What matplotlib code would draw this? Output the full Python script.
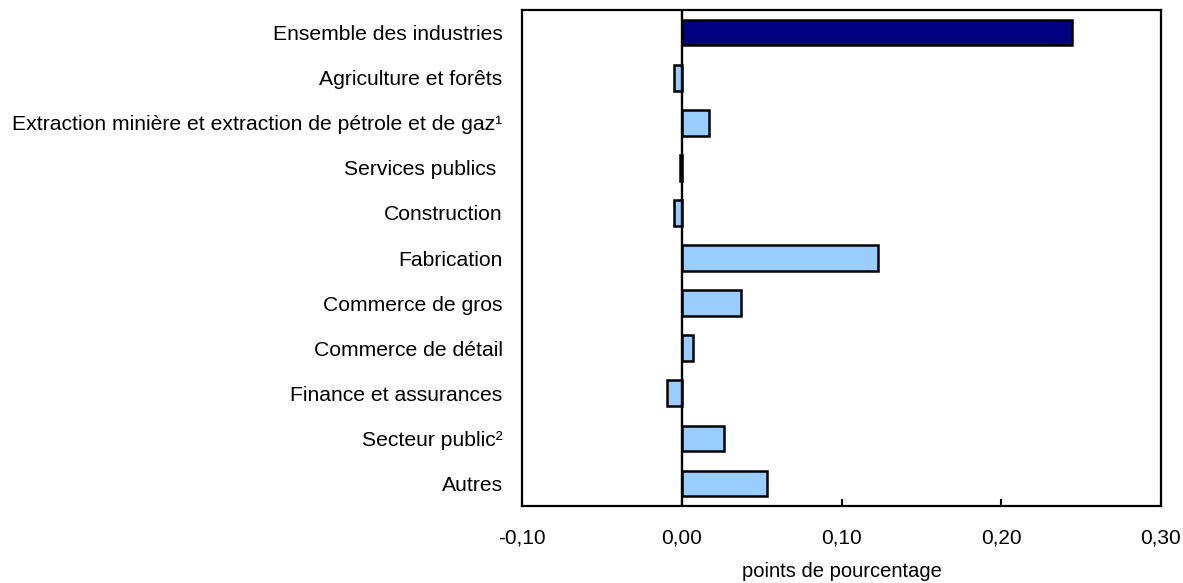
import matplotlib
matplotlib.use("Agg")
import matplotlib.pyplot as plt

# industries, top to bottom
industries = [
    "Ensemble des industries",
    "Agriculture et forêts",
    "Extraction minière et extraction de pétrole et de gaz¹",
    "Services publics ",
    "Construction",
    "Fabrication",
    "Commerce de gros",
    "Commerce de détail",
    "Finance et assurances",
    "Secteur public²",
    "Autres",
]
# contribution in percentage points
values = [0.244, -0.005, 0.017, -0.001, -0.005, 0.123, 0.037, 0.0073, -0.0092, 0.0265, 0.0536]

xticks = [-0.10, 0.00, 0.10, 0.20, 0.30]
xticklabels = ["-0,10", "0,00", "0,10", "0,20", "0,30"]

plt.rcParams['font.family'] = ['Liberation Sans', 'DejaVu Sans']

fig = plt.figure(figsize=(11.83, 5.83), dpi=100)
ax = fig.add_axes([0.4413, 0.1321, 0.5401, 0.8507])

colors = ["#000080"] + ["#99CCFF"] * (len(values) - 1)
ypos = list(range(len(industries)))
ax.barh(ypos, values, height=0.57, color=colors, edgecolor="black", linewidth=1.8, zorder=2)
ax.axvline(0, color="black", linewidth=1.7, zorder=3)

ax.set_ylim(len(industries) - 0.5, -0.5)
ax.set_xlim(-0.10, 0.30)
ax.set_yticks(ypos)
ax.set_yticklabels(industries, fontsize=15.2)
ax.tick_params(axis="y", length=0, pad=14)
ax.set_xticks(xticks)
ax.set_xticklabels(xticklabels, fontsize=15)
ax.tick_params(axis="x", direction="in", length=5, width=1.5, pad=16)
ax.set_xlabel("points de pourcentage", fontsize=14.5, labelpad=11)

for sp in ax.spines.values():
    sp.set_linewidth(1.6)

fig.savefig("out.png", dpi=100)
